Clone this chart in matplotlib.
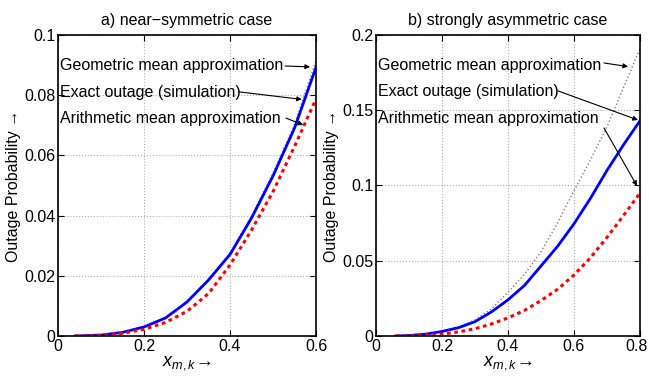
import matplotlib.pyplot as plt
import matplotlib.transforms as mtransforms

plt.rcParams['font.family'] = ['Liberation Sans', 'DejaVu Sans']
plt.rcParams['mathtext.fontset'] = 'custom'
plt.rcParams['mathtext.it'] = 'Liberation Sans:italic'
plt.rcParams['mathtext.rm'] = 'Liberation Sans'

# a) near-symmetric case
xa = [0.04, 0.1, 0.15, 0.2, 0.25, 0.3, 0.35, 0.4, 0.45, 0.5, 0.55, 0.6]
exact_a = [0, 0.0003, 0.0012, 0.003, 0.006, 0.0113, 0.0186, 0.0271, 0.0392, 0.0532, 0.0691, 0.0893]
arith_a = [0, 0.0002, 0.0009, 0.0022, 0.0045, 0.0082, 0.0141, 0.0236, 0.0352, 0.048, 0.063, 0.0788]
geo_a = [0, 0.0003, 0.0012, 0.003, 0.006, 0.0115, 0.0189, 0.0276, 0.0399, 0.0541, 0.0703, 0.0915]

# b) strongly asymmetric case
xb = [0.06, 0.1, 0.15, 0.2, 0.25, 0.3, 0.35, 0.4, 0.45, 0.5, 0.55, 0.6, 0.65, 0.7, 0.75, 0.8]
geo_b = [0, 0.0003, 0.0012, 0.003, 0.006, 0.0106, 0.018, 0.029, 0.041, 0.056, 0.075, 0.0965, 0.117, 0.139, 0.165, 0.191]
exact_b = [0, 0.0003, 0.0012, 0.003, 0.0055, 0.0095, 0.016, 0.024, 0.0336, 0.0465, 0.0595, 0.0745, 0.0915, 0.110, 0.127, 0.143]
arith_b = [0, 0.0001, 0.0004, 0.0012, 0.0027, 0.0048, 0.0080, 0.012, 0.017, 0.0235, 0.031, 0.0405, 0.052, 0.0655, 0.080, 0.095]

labels = ["Geometric mean approximation", "Exact outage (simulation)", "Arithmetic mean approximation"]

fig = plt.figure(figsize=(6.49, 3.79), dpi=100)
ax1 = fig.add_axes([0.0894, 0.1135, 0.3976, 0.7942])
ax2 = fig.add_axes([0.5793, 0.1135, 0.4068, 0.7942])

def style(ax, xmax, ymax, xt, yt, title):
    ax.set_xlim(0, xmax); ax.set_ylim(0, ymax)
    ax.set_xticks(xt); ax.set_yticks(yt)
    ax.set_xticklabels([f"{v:g}" for v in xt]); ax.set_yticklabels([f"{v:g}" for v in yt])
    ax.grid(True, color='#b0b0b0', linestyle=':', linewidth=0.8)
    ax.tick_params(direction='in', top=True, right=True, labelsize=11.5, length=4, pad=2)
    for s in ax.spines.values():
        s.set_linewidth(1.2)
    ax.set_title(title, fontsize=11.5, pad=7)
    ax.set_xlabel(r"$x_{m,k}\!\rightarrow$", fontsize=13, labelpad=0)
    ax.set_ylabel("Outage Probability \u2192", fontsize=11.5, labelpad=2)

style(ax1, 0.6, 0.1, [0, 0.2, 0.4, 0.6], [0, 0.02, 0.04, 0.06, 0.08, 0.1], "a) near\u2212symmetric case")
style(ax2, 0.8, 0.2, [0, 0.2, 0.4, 0.6, 0.8], [0, 0.05, 0.1, 0.15, 0.2], "b) strongly asymmetric case")

# nudge the last tick label so it stays inside the figure
last = ax2.get_xticklabels()[-1]
last.set_transform(last.get_transform() + mtransforms.ScaledTranslation(-0.03, 0, fig.dpi_scale_trans))

ax1.plot(xa, geo_a, color='gray', linestyle=':', linewidth=1)
ax1.plot(xa, exact_a, color='blue', linewidth=2)
ax1.plot(xa, arith_a, color='red', linestyle=(0, (1.2, 1.2)), linewidth=2.2)

ax2.plot(xb, geo_b, color='gray', linestyle=':', linewidth=1)
ax2.plot(xb, exact_b, color='blue', linewidth=2)
ax2.plot(xb, arith_b, color='red', linestyle=(0, (1.2, 1.2)), linewidth=2.2)

arrow = dict(arrowstyle='-|>', color='black', lw=0.8, shrinkA=0, shrinkB=0, mutation_scale=7)

# (text position, arrow tail, arrow head) in data coords
ann_a = [((0.005, 0.0897), (0.528, 0.0897), (0.586, 0.0894)),
         ((0.005, 0.0810), (0.421, 0.0811), (0.567, 0.0786)),
         ((0.005, 0.0722), (0.530, 0.0724), (0.570, 0.0701))]
ann_b = [((0.006, 0.180), (0.691, 0.1814), (0.764, 0.179)),
         ((0.006, 0.1625), (0.552, 0.1628), (0.794, 0.1435)),
         ((0.006, 0.1445), (0.691, 0.1382), (0.791, 0.0997))]

for ax, anns in [(ax1, ann_a), (ax2, ann_b)]:
    for lab, (txt, tail, head) in zip(labels, anns):
        ax.text(txt[0], txt[1], lab, fontsize=11.5, va='center', ha='left')
        ax.annotate("", xy=head, xytext=tail, arrowprops=arrow)

fig.savefig("out.png", dpi=100)
